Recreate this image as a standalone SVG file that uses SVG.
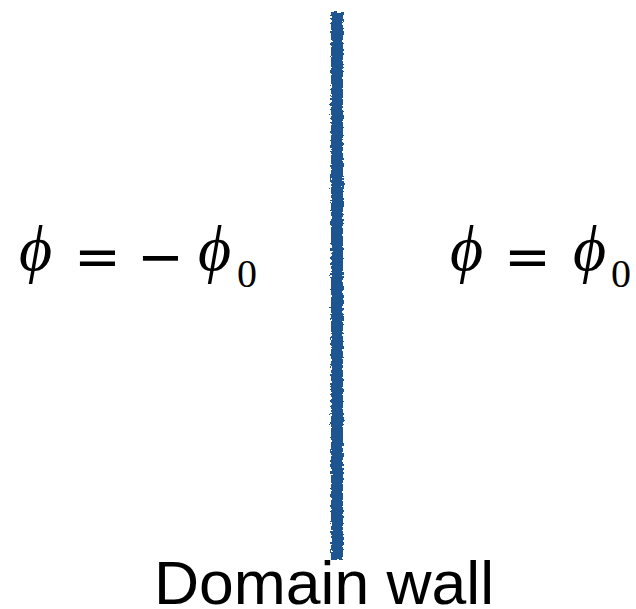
<svg xmlns="http://www.w3.org/2000/svg" width="636" height="609" viewBox="0 0 636 609">
<style>
.m{font-family:"Liberation Serif","Times New Roman",serif;fill:#000}
.i{font-style:italic;font-size:64px}
.o{font-family:"DejaVu Sans",sans-serif;font-size:56px;fill:#000}
.s{font-size:40px}
.lab{font-family:"Liberation Sans",Arial,sans-serif;font-size:62px;fill:#000}
</style>
<defs>
<filter id="rough" x="-50%" y="-5%" width="200%" height="110%">
<feTurbulence type="fractalNoise" baseFrequency="0.35" numOctaves="2" seed="3" result="n"/>
<feDisplacementMap in="SourceGraphic" in2="n" scale="5" xChannelSelector="R" yChannelSelector="G"/>
</filter>
</defs>
<g id="wall">
<rect x="331" y="12" width="12" height="548" fill="#1d5590" filter="url(#rough)"/>
</g>
<g id="left-label">
<text class="m i" x="19" y="270">ϕ</text>
<text class="o" x="74" y="276">=</text>
<text class="o" x="137" y="276">−</text>
<text class="m i" x="198" y="270">ϕ</text>
<text class="m s" x="237" y="287">0</text>
</g>
<g id="right-label">
<text class="m i" x="450" y="270">ϕ</text>
<text class="o" x="504" y="276">=</text>
<text class="m i" x="573" y="270">ϕ</text>
<text class="m s" x="611" y="287">0</text>
</g>
<g id="caption">
<text class="lab" x="154" y="604" textLength="340" lengthAdjust="spacingAndGlyphs">Domain wall</text>
</g>
</svg>
